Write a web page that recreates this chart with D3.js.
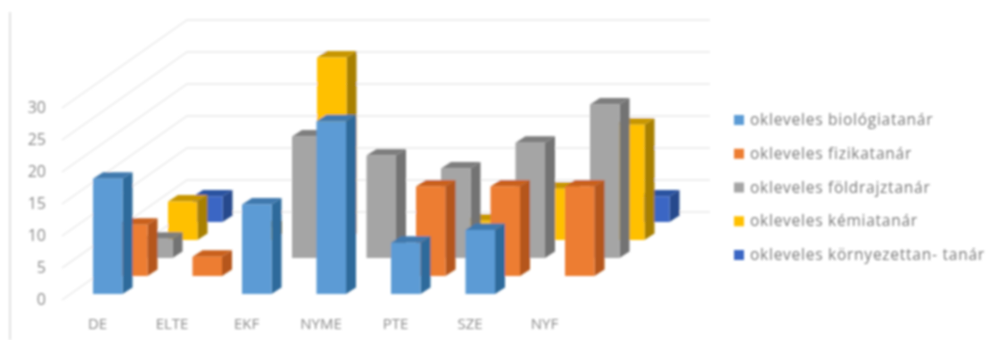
<!DOCTYPE html>
<html><head><meta charset="utf-8">
<script src="https://cdn.jsdelivr.net/npm/d3@7/dist/d3.min.js"></script>
<style>html,body{margin:0;background:#fff}svg{display:block}text{font-family:"Open Sans",sans-serif}</style>
</head><body><svg id="c" width="990" height="340"></svg>
<script>
const categories = ["DE","ELTE","EKF","NYME","PTE","SZE","NYF"];
const seriesNames = ["okleveles biológiatanár","okleveles fizikatanár","okleveles földrajztanár","okleveles kémiatanár","okleveles környezettan- tanár"];
const biologia  = [18,0,14,27,8,10,0];
const fizika    = [8,3,0,0,14,14,14];
const foldrajz  = [3,0,19,16,14,18,24];
const kemia     = [6,2,28.5,0,3,8,18];
const kornyezet = [4,0,0,0,0,0,4];
const seriesValues = [biologia,fizika,foldrajz,kemia,kornyezet];
const faceColors = ["#5B9BD5","#ED7D31","#A5A5A5","#FFC000","#3A66C4"];
const sideColors = ["#2F6A9B","#B5571C","#737373","#A88000","#264A8C"];
const topColors  = ["#3F79AE","#C9601E","#7E7E7E","#C79600","#2C53A0"];
const valueTicks = [0,5,10,15,20,25,30];

const svg = d3.select("#c");
const defs = svg.append("defs");
defs.append("filter").attr("id","soft").attr("x","-5%").attr("y","-5%").attr("width","110%").attr("height","110%")
  .append("feGaussianBlur").attr("stdDeviation",0.8);
const root = svg.append("g").attr("filter","url(#soft)");

const x = d3.scalePoint().domain(categories).range([93,540]);
const h = d3.scaleLinear().domain([0,30]).range([0,192]);
const depthX = d3.scalePoint().domain(seriesNames).range([0,100]);
const depthY = d3.scalePoint().domain(seriesNames).range([294,222]);
const barW = 29.5, sideDx = 10, sideDy = 6.5;

// frame line
root.append("line").attr("x1",10).attr("x2",10).attr("y1",12).attr("y2",340).attr("stroke","#d9d9d9").attr("stroke-width",1.5);

// gridlines: front edge -> back wall
const frontY = d3.scaleLinear().domain([0,30]).range([300,108]);
const backY = d3.scaleLinear().domain([0,30]).range([212,20]);
const grid = root.append("g").attr("fill","none").attr("stroke","#e9e9e9").attr("stroke-width",1.5);
grid.selectAll("path").data(valueTicks).join("path")
  .attr("d",v=>d3.line()([[62,frontY(v)],[187,backY(v)],[710,backY(v)]]));

// value axis
const yAxis = root.append("g").attr("transform","translate(46,-1)").call(d3.axisLeft(frontY).tickValues(valueTicks).tickSize(0).tickPadding(0));
yAxis.select(".domain").remove();
yAxis.selectAll("text").attr("font-size",16).attr("fill","#8a8a8a");

// bars: back series first
d3.range(seriesNames.length).reverse().forEach(si=>{
  const name = seriesNames[si];
  const rows = categories.map((c,i)=>({c,v:seriesValues[si][i]})).filter(d=>d.v>0);
  const g = root.append("g");
  const bar = g.selectAll("g").data(rows).join("g");
  const X0 = d=>x(d.c)+depthX(name);
  const Yb = depthY(name);
  const Yt = d=>Yb-h(d.v);
  bar.append("path").attr("fill",sideColors[si]).attr("d",d=>d3.line()([
    [X0(d)+barW,Yb],[X0(d)+barW+sideDx,Yb-sideDy],[X0(d)+barW+sideDx,Yt(d)-sideDy],[X0(d)+barW,Yt(d)]])+"Z");
  bar.append("path").attr("fill",topColors[si]).attr("d",d=>d3.line()([
    [X0(d),Yt(d)],[X0(d)+sideDx,Yt(d)-sideDy],[X0(d)+barW+sideDx,Yt(d)-sideDy],[X0(d)+barW,Yt(d)]])+"Z");
  bar.append("rect").attr("fill",faceColors[si]).attr("x",X0).attr("y",Yt).attr("width",barW).attr("height",d=>h(d.v));
});

// category axis
const xAxis = root.append("g").attr("transform","translate(4,318)").call(d3.axisBottom(x).tickSize(0).tickPadding(0));
xAxis.select(".domain").remove();
xAxis.selectAll("text").attr("font-size",15).attr("fill","#8a8a8a");

// legend
const legendY = d3.scalePoint().domain(seriesNames).range([120,255]);
const leg = root.append("g").selectAll("g").data(seriesNames).join("g")
  .attr("transform",d=>`translate(734,${legendY(d)})`);
leg.append("rect").attr("x",0).attr("y",-5).attr("width",10).attr("height",10).attr("fill",(d,i)=>faceColors[i]);
leg.append("text").attr("x",16).attr("y",5).attr("font-size",15.5).attr("letter-spacing",0.75).attr("fill","#7a7a7a").text(d=>d);
</script></body></html>
